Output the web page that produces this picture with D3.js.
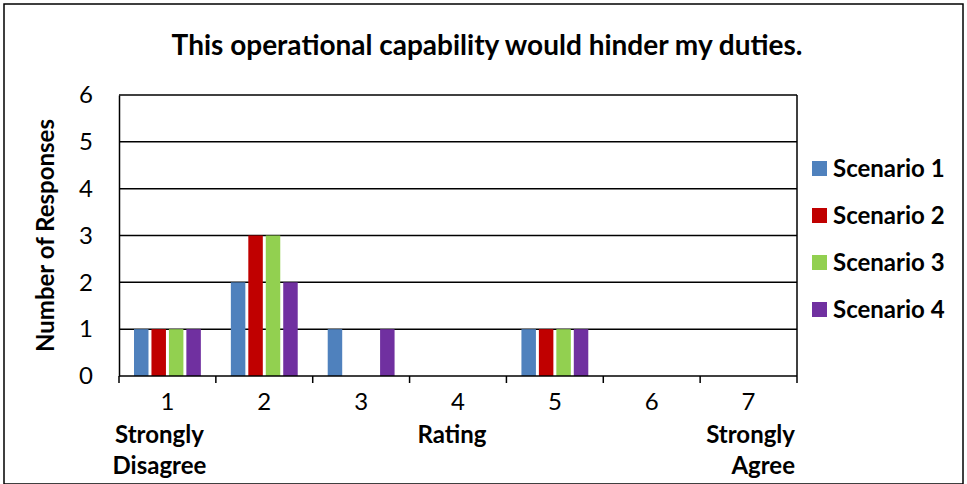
<!doctype html>
<html lang="en">
<head>
<meta charset="utf-8" />
<script src="https://cdn.jsdelivr.net/npm/d3@7"></script>
<style>
	body { margin: 0; background: #fff; }
	text { font-family: Lato, "Open Sans", sans-serif; fill: #000; }
</style>
</head>
<body>
<div id="chart"></div>
<script>
	const ratings = ["1", "2", "3", "4", "5", "6", "7"];
	const seriesNames = ["Scenario 1", "Scenario 2", "Scenario 3", "Scenario 4"];
	const scenario1 = [1, 2, 1, 0, 1, 0, 0];
	const scenario2 = [1, 3, 0, 0, 1, 0, 0];
	const scenario3 = [1, 3, 0, 0, 1, 0, 0];
	const scenario4 = [1, 2, 1, 0, 1, 0, 0];
	const yTicks = [0, 1, 2, 3, 4, 5, 6];
	const colors = ["#4F81BD", "#C00000", "#92D050", "#7030A0"];

	const W = 967, H = 484;
	const M = { LEFT: 119, RIGHT: 170, TOP: 95, BOTTOM: 108 };
	const series = [scenario1, scenario2, scenario3, scenario4];

	const svg = d3.select("#chart").append("svg").attr("width", W).attr("height", H);

	// outer frame
	svg.append("rect").attr("x", 4).attr("y", 4).attr("width", W - 8).attr("height", H - 4)
		.attr("fill", "none").attr("stroke", "#000").attr("stroke-width", 1.5);

	const x = d3.scaleBand().domain(ratings).range([M.LEFT, W - M.RIGHT]).paddingInner(0).paddingOuter(0);
	const inner = d3.scaleBand().domain(seriesNames).range([15, x.bandwidth() - 15]).paddingInner(0.17);
	const y = d3.scaleLinear().domain([0, 6]).range([H - M.BOTTOM, M.TOP]);

	// gridlines
	svg.append("g").selectAll("line").data(yTicks.slice(1)).join("line")
		.attr("x1", M.LEFT).attr("x2", W - M.RIGHT)
		.attr("y1", (d) => y(d)).attr("y2", (d) => y(d))
		.attr("stroke", "#000").attr("stroke-width", 1.5);

	// bars
	const g = svg.append("g");
	series.forEach((vals, si) => {
		g.selectAll(null).data(vals.map((v, i) => ({ r: ratings[i], v }))).join("rect")
			.filter((d) => d.v > 0)
			.attr("x", (d) => x(d.r) + inner(seriesNames[si]))
			.attr("width", inner.bandwidth())
			.attr("y", (d) => y(d.v))
			.attr("height", (d) => y(0) - y(d.v))
			.attr("fill", colors[si]);
	});

	// right border of plot
	svg.append("line").attr("x1", W - M.RIGHT).attr("x2", W - M.RIGHT).attr("y1", M.TOP).attr("y2", y(0))
		.attr("stroke", "#000").attr("stroke-width", 1.5);

	// y axis
	const yAxis = svg.append("g").attr("transform", `translate(${M.LEFT},0)`)
		.call(d3.axisLeft(y).tickValues(yTicks).tickFormat(d3.format("d")).tickSize(0).tickPadding(26));
	yAxis.select(".domain").attr("stroke", "#000").attr("stroke-width", 1.5);
	yAxis.selectAll("text").attr("font-size", 24).attr("font-family", "Lato, sans-serif");

	// x axis with ticks on band boundaries
	const xAxis = svg.append("g").attr("transform", `translate(0,${y(0)})`);
	xAxis.append("line").attr("x1", M.LEFT).attr("x2", W - M.RIGHT).attr("stroke", "#000").attr("stroke-width", 1.5);
	const bounds = ratings.map((r) => x(r)).concat([W - M.RIGHT]);
	xAxis.selectAll(".tk").data(bounds).join("line").attr("class", "tk")
		.attr("x1", (d) => d).attr("x2", (d) => d).attr("y1", 0).attr("y2", 7)
		.attr("stroke", "#000").attr("stroke-width", 1.5);
	xAxis.selectAll(".lbl").data(ratings).join("text").attr("class", "lbl")
		.attr("x", (d) => x(d) + x.bandwidth() / 2).attr("y", 34)
		.attr("text-anchor", "middle").attr("font-size", 24).text((d) => d);

	// x axis captions
	const cap = (txt, xx, yy, anchor) => svg.append("text").attr("x", xx).attr("y", yy)
		.attr("text-anchor", anchor).attr("font-size", 24).attr("font-weight", "bold").text(txt);
	cap("Strongly", x("1") + x.bandwidth() / 2 - 8, 443, "middle");
	cap("Disagree", x("1") + x.bandwidth() / 2 - 8, 474, "middle");
	cap("Rating", 452, 443, "middle");
	cap("Strongly", W - M.RIGHT - 2, 443, "end");
	cap("Agree", W - M.RIGHT - 2, 474, "end");

	// y axis title
	svg.append("text").attr("transform", `translate(54,${(M.TOP + y(0)) / 2}) rotate(-90)`)
		.attr("text-anchor", "middle").attr("font-size", 24).attr("font-weight", "bold")
		.text("Number of Responses");

	// title
	svg.append("text").attr("x", 487).attr("y", 55).attr("text-anchor", "middle")
		.attr("font-size", 28).attr("font-weight", "bold")
		.text("This operational capability would hinder my duties.");

	// legend
	const legend = svg.append("g").selectAll("g").data(seriesNames).join("g")
		.attr("transform", (d, i) => `translate(812,${161 + i * 47})`);
	legend.append("rect").attr("width", 15).attr("height", 15).attr("fill", (d, i) => colors[i]);
	legend.append("text").attr("x", 21).attr("y", 16).attr("font-size", 24).attr("font-weight", "bold").text((d) => d);
</script>
</body>
</html>
